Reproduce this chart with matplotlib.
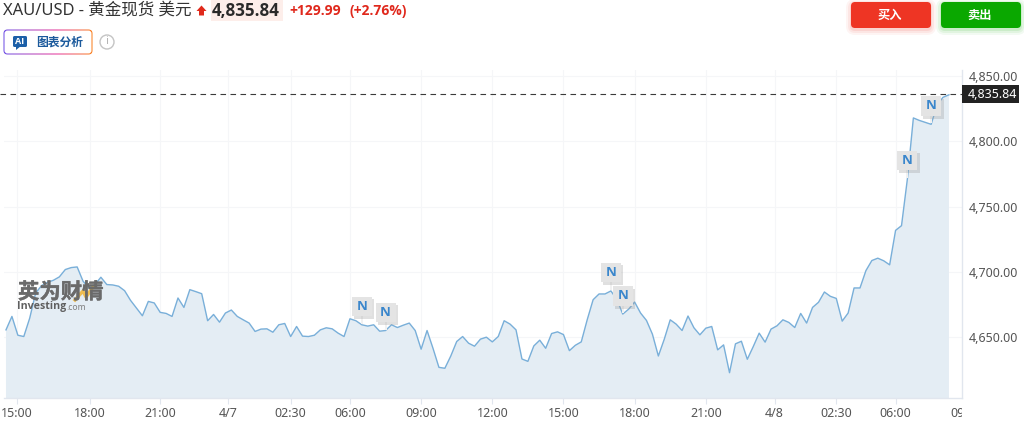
"""XAU/USD intraday area chart with trading header."""
import matplotlib
matplotlib.use("Agg")

import matplotlib.patheffects as pe
import matplotlib.pyplot as plt
import numpy as np
from matplotlib.patches import FancyBboxPatch, Polygon, Rectangle, Circle
from matplotlib.transforms import Bbox

plt.rcParams["font.family"] = ["Noto Sans", "Noto Sans CJK SC", "DejaVu Sans"]
BOLD = ["Open Sans", "Noto Sans CJK SC", "DejaVu Sans"]

prices = [
    4655.6, 4665.9, 4651.5, 4650.5, 4664.6, 4683.8, 4689.5, 4692.0, 4693.6, 4696.2,
    4701.8, 4703.3, 4703.8, 4692.8, 4687.7, 4690.3, 4695.9, 4690.3, 4690.0, 4689.0,
    4685.6, 4678.2, 4672.3, 4666.4, 4677.4, 4676.2, 4669.0, 4668.2, 4665.9, 4680.0,
    4672.8, 4686.4, 4684.9, 4683.3, 4662.6, 4667.4, 4661.5, 4668.5, 4670.8, 4665.9,
    4663.3, 4660.8, 4654.4, 4656.2, 4656.4, 4653.8, 4659.5, 4660.5, 4650.5, 4658.2,
    4650.8, 4650.5, 4651.5, 4655.6, 4657.2, 4656.4, 4653.1, 4650.5, 4664.1, 4662.6,
    4659.5, 4658.5, 4659.5, 4654.6, 4655.1, 4659.5, 4657.4, 4659.2, 4660.8, 4655.1,
    4640.8, 4655.1, 4641.5, 4626.9, 4626.2, 4635.6, 4646.7, 4650.5, 4645.4, 4643.1,
    4648.5, 4650.0, 4646.4, 4650.5, 4662.6, 4660.0, 4655.6, 4633.3, 4631.5, 4643.3,
    4647.7, 4641.5, 4652.8, 4654.1, 4652.0, 4639.7, 4643.8, 4646.4, 4663.3, 4678.7,
    4683.1, 4683.1, 4685.4, 4679.0, 4667.7, 4671.5, 4676.9, 4668.5, 4662.8, 4652.3,
    4635.6, 4648.5, 4663.3, 4660.0, 4655.1, 4666.2, 4657.2, 4651.8, 4656.9, 4658.2,
    4640.3, 4644.1, 4622.8, 4644.9, 4646.9, 4633.1, 4642.8, 4653.1, 4646.2, 4656.2,
    4658.7, 4663.3, 4661.3, 4657.4, 4668.2, 4660.8, 4672.8, 4676.7, 4684.6, 4681.3,
    4679.7, 4662.3, 4668.5, 4687.7, 4687.7, 4701.0, 4708.7, 4710.5, 4708.5, 4705.4,
    4731.8, 4735.4, 4771.5, 4817.9, 4816.0, 4814.5, 4813.0, 4828.0, 4833.7, 4835.6,
]
news_points = [60, 64, 102, 104, 152, 156]

time_ticks = [1.9, 14.1, 26, 37.5, 48, 58, 70, 82, 94, 106, 118, 129.6, 140, 150]
time_labels = ["15:00", "18:00", "21:00", "4/7", "02:30", "06:00", "09:00", "12:00",
               "15:00", "18:00", "21:00", "4/8", "02:30", "06:00"]
cut_tick, cut_label = 162.0, "09:00"
price_ticks = [4650, 4700, 4750, 4800, 4850]
last_price = 4835.84

W, H = 1024, 424
GREY = "#555555"
AXIS = "#e1e6ee"
X_MAX = 161.2

fig = plt.figure(figsize=(W / 100, H / 100), dpi=100, facecolor="white")
ax = fig.add_axes([3.5 / W, 1 - 398.3 / H, (962 - 3.5) / W, (398.3 - 70) / H])

x = np.arange(len(prices))
ax.fill_between(x, prices, 4500, color="#e4edf4", lw=0, zorder=2)
ax.plot(x, prices, color="#79afd9", lw=1.0, zorder=3)
ax.set_xlim(-0.42, X_MAX)
ax.set_ylim(4603.2, 4854.6)

ax.yaxis.tick_right()
ax.set_yticks(price_ticks, [f"{v:,.2f}" for v in price_ticks])
ax.set_xticks(time_ticks, time_labels)
ax.tick_params(axis="y", length=0, pad=5, labelsize=9, labelcolor=GREY)
ax.tick_params(axis="x", length=4, width=0.8, color=AXIS, pad=2, labelsize=9, labelcolor=GREY)
ax.grid(True, color="#f5f6f8", lw=0.8, zorder=1)
ax.set_axisbelow(True)
for side in ("top", "left"):
    ax.spines[side].set_visible(False)
for side in ("bottom", "right"):
    ax.spines[side].set_color(AXIS)
    ax.spines[side].set_linewidth(1.0)

# last time label runs past the plot edge and is cut there
cut = ax.text(cut_tick, -0.025, cut_label, transform=ax.get_xaxis_transform(), ha="center", va="top",
              fontsize=9, color=GREY, clip_on=True)
cut.set_clip_box(Bbox.from_extents(0, 0, 962, H))

ax.plot([-1, X_MAX], [last_price, last_price], color="#3a3a3a", lw=0.8,
        dashes=(5, 4), clip_on=False, zorder=4)

# pixel-space overlay for the page furniture
ov = fig.add_axes([0, 0, 1, 1], zorder=5)
ov.set_xlim(0, W)
ov.set_ylim(H, 0)
ov.axis("off")
ov.patch.set_alpha(0)


def to_px(xv, yv):
    px, py = ax.transData.transform((xv, yv))
    return px, H - py


def round_box(x0, y0, w, h, r, **kw):
    return FancyBboxPatch((x0 + r, y0 + r), w - 2 * r, h - 2 * r,
                          boxstyle=f"round,pad={r},rounding_size={r}", **kw)


# current price flag
_, flag_y = to_px(0, last_price)
ov.add_patch(Rectangle((962, flag_y - 9), 57, 18, color="#222222", lw=0))
ov.text(968, flag_y, f"{last_price:,.2f}", color="white", fontsize=9, va="center", weight="medium")

# watermark
ov.text(18, 292, "英为财情", fontsize=15.4, weight="bold", color="#6a6a6a", va="center", alpha=0.95,
        family=["Noto Sans CJK SC"], path_effects=[pe.withStroke(linewidth=0.3, foreground="#6a6a6a")])
ov.plot([75, 83, 86, 93], [300, 291, 297, 287], color="#f0b840", lw=2.4, alpha=0.9)
ov.text(17.5, 307, "Investing", fontsize=7.7, weight="bold", color="#5f5f5f", va="center", family=BOLD)
ov.text(66, 308, ".com", fontsize=6.2, color="#808080", va="center")

# news flags
for idx in news_points:
    px, py = to_px(idx, prices[idx])
    ov.add_patch(Rectangle((px - 1, py - 9), 2, 8, color="#f1f1f1", lw=0, zorder=5))
    ov.add_patch(Rectangle((px - 8, py - 25.5), 20.5, 20, color="#9a9a9a", alpha=0.3, lw=0, zorder=5))
    ov.add_patch(Rectangle((px - 10, py - 28), 20, 19.5, color="#e4e4e4", lw=0, zorder=6))
    ov.text(px, py - 18.5, "N", color="#3a86cc", fontsize=9.5, weight="bold", ha="center", va="center",
            zorder=7, family=BOLD)

# header
ov.text(3, 11, "XAU/USD - 黄金现货 美元", fontsize=11.9, color="#333333", va="center")
ov.add_patch(Polygon([[201.5, 5.5], [206.5, 11], [204, 11], [204, 15.5], [199, 15.5], [199, 11], [196.5, 11]],
                     color="#e02a1c", lw=0))
ov.add_patch(Rectangle((211, 0), 72, 21, color="#fdeeea", lw=0))
ov.text(212, 11, f"{last_price:,.2f}", fontsize=12.2, weight="bold", color="#2a2a2a", va="center", family=BOLD)
ov.text(289, 11, "+129.99", fontsize=10, weight="bold", color="#e0281c", va="center", family=BOLD)
ov.text(350, 11, "(+2.76%)", fontsize=10, weight="bold", color="#e0281c", va="center", family=BOLD)

# AI button with gradient outline
grad = np.linspace(0, 1, 256)
cols = np.array([[0.42, 0.30, 0.90], [0.90, 0.20, 0.60], [0.98, 0.50, 0.10]])
grad_rgb = np.stack([np.interp(grad, [0, 0.6, 1], cols[:, c]) for c in range(3)], axis=-1)[None, :, :]
border = round_box(3.5, 29.5, 89, 25, 4, facecolor="none", edgecolor="none", transform=ov.transData)
ov.add_patch(border)
im = ov.imshow(grad_rgb, extent=(3, 93, 55, 29), aspect="auto", zorder=3)
im.set_clip_path(border)
ov.set_xlim(0, W)
ov.set_ylim(H, 0)
ov.add_patch(round_box(4.5, 30.5, 87, 23, 3, facecolor="white", edgecolor="none", zorder=4))
ov.add_patch(round_box(13, 36, 14, 11, 1.5, facecolor="#1c5fa8", edgecolor="none", zorder=5))
ov.add_patch(Polygon([[16, 46], [16, 50], [21, 46]], color="#1c5fa8", lw=0, zorder=5))
ov.text(20, 41.5, "AI", color="white", fontsize=6.5, weight="bold", ha="center", va="center", zorder=6, family=BOLD)
ov.text(36, 42, "图表分析", color="#1c5a9c", fontsize=8.5, weight="bold", va="center", zorder=6)
ov.add_patch(Circle((107, 42), 7, facecolor="white", edgecolor="#c4c4c4", lw=1))
ov.text(107, 42, "i", color="#b5b5b5", fontsize=8, ha="center", va="center")

# buy / sell buttons
for x0, col, label in [(851, "#ee3524", "买入"), (941, "#0aa800", "卖出")]:
    for grow, alpha in [(5, 0.05), (3, 0.07), (1, 0.1)]:
        ov.add_patch(round_box(x0 - grow, 2 + 2 - grow, 80 + 2 * grow, 26 + 2 * grow, 4 + grow,
                               facecolor=col, edgecolor="none", alpha=alpha))
    ov.add_patch(round_box(x0, 2, 80, 26, 4, facecolor=col, edgecolor="none"))
    ov.text(x0 + 39, 15, label, color="white", fontsize=8.8, weight="bold", ha="center", va="center")

fig.savefig("out.png", dpi=100)
